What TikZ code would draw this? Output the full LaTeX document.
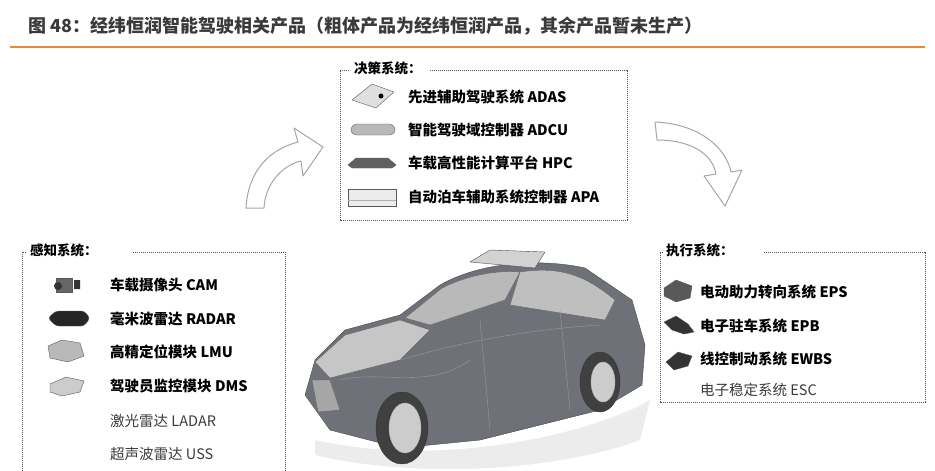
\documentclass[tikz,border=0pt]{standalone}
\usepackage{fontspec}
\setmainfont{Noto Sans CJK SC}
\usetikzlibrary{positioning,calc}
\definecolor{titlegray}{HTML}{3A3A3A}
\definecolor{rulecol}{HTML}{E8883A}
\definecolor{boxgray}{HTML}{555555}
\definecolor{cargray}{HTML}{6E7278}

\begin{document}
\begin{tikzpicture}[x=1pt, y=-1pt,
    every node/.style={font=\fontsize{14.5}{16}\selectfont},
    item/.style={anchor=west, inner sep=0pt, font=\fontsize{14.5}{16}\selectfont\bfseries, text=black},
    plain/.style={anchor=west, inner sep=0pt, text=titlegray},
    boxtitle/.style={anchor=west, inner sep=0pt, font=\fontsize{13.5}{16}\selectfont\bfseries},
    dashbox/.style={boxgray, line width=0.8pt, dash pattern=on 1.2pt off 0.8pt},
    icon/.style={draw=gray!70!black, fill=gray!55, line width=0.4pt},
    bigarrow/.style={draw=gray!70, fill=white, line width=1pt, line join=round}
]
\useasboundingbox (0,0) rectangle (935,471);

% title and rule
\node[anchor=west, inner sep=0pt, text=titlegray, font=\fontsize{18}{20}\selectfont\bfseries] (title) at (28,26)
    {图 48：经纬恒润智能驾驶相关产品（粗体产品为经纬恒润产品，其余产品暂未生产）};
\draw[rulecol, line width=1.5pt] (10,47) -- (925,47);

% decision box
\node[boxtitle] (decide) at (354,68) {决策系统：};
\draw[dashbox] (decide.east) ++(8,2) -- (627,70) -- (627,220) -- (340,220) -- (340,70) -- (348,70);
\node[item] (adas) at (408,97) {先进辅助驾驶系统 ADAS};
\node[item] (adcu) at (408,130) {智能驾驶域控制器 ADCU};
\node[item] (hpc)  at (408,163) {车载高性能计算平台 HPC};
\node[item] (apa)  at (408,197) {自动泊车辅助系统控制器 APA};
\draw[icon, fill=gray!25] (352,100) -- (372,84) -- (394,92) -- (376,108) -- cycle;
\fill[black] (381,96) circle (2.5);
\draw[icon, rounded corners=2] (350,130) -- (354,124) -- (392,124) -- (396,130) -- (392,135) -- (354,135) -- cycle;
\draw[icon, fill=gray!75!black] (348,165) -- (356,158) -- (388,158) -- (396,165) -- (392,168) -- (352,168) -- cycle;
\draw[icon, fill=gray!15] (348,189) rectangle (396,206);
\draw[gray!60] (348,200) -- (396,200);

% perception box
\node[boxtitle] (sense) at (30,250) {感知系统：};
\draw[dashbox] (sense.east) ++(35,2) -- (285,252) -- (285,475);
\draw[dashbox] (22,475) -- (22,252) -- (26,252);
\node[item] (cam)   at (110,285) {车载摄像头 CAM};
\node[item] (radar) at (110,319) {毫米波雷达 RADAR};
\node[item] (lmu)   at (110,352) {高精定位模块 LMU};
\node[item] (dms)   at (110,386) {驾驶员监控模块 DMS};
\node[plain] (ladar) at (110,421) {激光雷达 LADAR};
\node[plain] (uss)   at (110,454) {超声波雷达 USS};
\draw[icon, fill=gray!80!black] (56,278) rectangle (72,292);
\fill[black!80] (58,286) circle (4) (74,280) rectangle (80,289);
\draw[icon, fill=black!85, rounded corners=3] (48,318) -- (56,311) -- (84,311) -- (90,318) -- (84,326) -- (56,326) -- cycle;
\draw[icon] (48,346) -- (62,340) -- (80,343) -- (84,356) -- (68,362) -- (50,358) -- cycle;
\draw[icon, fill=gray!40] (50,384) -- (66,377) -- (84,381) -- (80,392) -- (62,396) -- (50,392) -- cycle;

% execution box
\node[boxtitle] (act) at (666,250) {执行系统：};
\draw[dashbox] (act.east) ++(30,2) -- (925,252) -- (925,402) -- (660,402) -- (660,252) -- (662,252);
\node[item] (eps)  at (700,292) {电动助力转向系统 EPS};
\node[item] (epb)  at (700,326) {电子驻车系统 EPB};
\node[item] (ewbs) at (700,359) {线控制动系统 EWBS};
\node[plain] (esc) at (700,390) {电子稳定系统 ESC};
\draw[icon, fill=gray!70!black] (664,288) -- (676,280) -- (692,286) -- (690,298) -- (676,302) -- (664,296) -- cycle;
\draw[icon, fill=black!80] (664,322) -- (676,316) -- (688,324) -- (694,332) -- (684,334) -- (672,330) -- cycle;
\draw[icon, fill=black!80] (666,362) -- (678,352) -- (692,356) -- (688,366) -- (674,370) -- cycle;

% curved arrows
\draw[bigarrow] (246,208) .. controls (248,172) and (268,150) .. (298,142)
    -- (294,128) -- (323,147) -- (303,176) -- (301,161)
    .. controls (280,166) and (265,186) .. (264,208) -- cycle;
\draw[bigarrow] (655,122) .. controls (700,124) and (726,148) .. (731,172)
    -- (742,170) -- (725,206) -- (704,176) -- (716,174)
    .. controls (712,152) and (688,140) .. (657,140) -- cycle;

% car
\begin{scope}[line join=round]
\fill[gray!15] (315,440) .. controls (450,470) and (600,430) .. (650,400) -- (640,440) .. controls (560,470) and (420,480) .. (315,455) -- cycle;
\draw[black!70, fill=cargray] (305,395) -- (315,360) -- (345,330) -- (400,315) -- (440,285)
    .. controls (480,262) and (540,258) .. (585,268) -- (632,300) -- (645,345) -- (642,385)
    -- (600,410) -- (480,440) -- (400,448) -- (330,430) -- cycle;
\draw[black!60, fill=gray!55] (405,318) -- (442,288) .. controls (470,274) and (500,270) .. (520,272)
    -- (505,300) -- (430,325) -- cycle;
\draw[black!60, fill=gray!50] (520,272) .. controls (560,266) and (585,275) .. (615,300)
    -- (605,320) -- (510,305) -- cycle;
\draw[black!70, fill=gray!35] (470,262) -- (490,250) -- (545,252) -- (535,268) -- cycle;
\draw[black!60, fill=gray!45] (315,362) -- (345,335) -- (400,320) -- (430,330) -- (400,360) -- (330,378) -- cycle;
\draw[black!40] (340,380) .. controls (380,370) and (430,390) .. (470,360);
\draw[black!40] (400,360) .. controls (450,345) and (520,330) .. (600,325);
\draw[black!40] (480,320) -- (490,430) (560,310) -- (570,410);
\draw[black!80, fill=black!75] (402,428) ellipse (26 and 36);
\draw[gray!60, fill=gray!40] (405,428) ellipse (16 and 25);
\draw[black!80, fill=black!75] (600,382) ellipse (20 and 30);
\draw[gray!60, fill=gray!40] (603,382) ellipse (12 and 20);
\draw[black!60, fill=gray!70] (312,380) -- (330,380) -- (340,410) -- (318,412) -- cycle;
\end{scope}

\end{tikzpicture}
\end{document}
